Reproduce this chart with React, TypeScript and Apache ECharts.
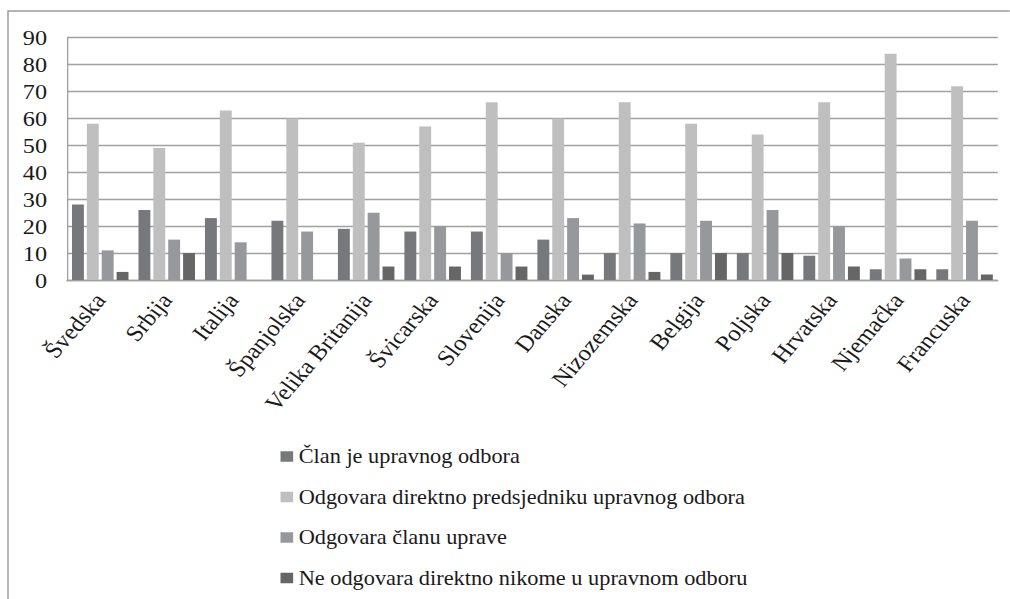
import React, { useEffect, useRef } from "react";
import * as echarts from "echarts";

const categories = [
  "Švedska", "Srbija", "Italija", "Španjolska", "Velika Britanija", "Švicarska", "Slovenija",
  "Danska", "Nizozemska", "Belgija", "Poljska", "Hrvatska", "Njemačka", "Francuska",
];
const seriesNames = [
  "Član je upravnog odbora",
  "Odgovara direktno predsjedniku upravnog odbora",
  "Odgovara članu uprave",
  "Ne odgovara direktno nikome u upravnom odboru",
];
const clanUpravnogOdbora = [28, 26, 23, 22, 19, 18, 18, 15, 10, 10, 10, 9, 4, 4];
const predsjedniku = [58, 49, 63, 60, 51, 57, 66, 60, 66, 58, 54, 66, 84, 72];
const clanuUprave = [11, 15, 14, 18, 25, 20, 10, 23, 21, 22, 26, 20, 8, 22];
const nikome = [3, 10, 0, 0, 5, 5, 5, 2, 3, 10, 10, 5, 4, 2];
const colors = ["#77787b", "#c0bfc0", "#97989b", "#666666"];
const yTicks = { min: 0, max: 90, interval: 10 };

const FONT = "Liberation Serif";
// The reference picture is slightly stretched horizontally; draw narrower and scale in x.
const STRETCH = 1.1;
const W = 1010 / STRETCH;
const px = (v: number) => v / STRETCH;

export default function App() {
  const ref = useRef<HTMLDivElement>(null);
  useEffect(() => {
    if (!ref.current) return;
    const chart = echarts.init(ref.current, null, { renderer: "svg" });
    const values = [clanUpravnogOdbora, predsjedniku, clanuUprave, nikome];
    chart.setOption({
      animation: false,
      backgroundColor: "#ffffff",
      textStyle: { fontFamily: FONT },
      graphic: [
        {
          type: "rect",
          shape: { x: px(8), y: 11, width: 1000, height: 700 },
          style: { fill: "none", stroke: "#9a9a9a", lineWidth: 1.3 },
          silent: true,
        },
      ],
      grid: { left: px(67), top: 37.7, right: W - px(998), bottom: 319, containLabel: false },
      legend: {
        orient: "vertical",
        left: px(275),
        top: 441,
        itemWidth: 11.5,
        itemHeight: 10.5,
        itemGap: 19.5,
        icon: "rect",
        data: seriesNames,
        textStyle: { fontFamily: FONT, fontSize: 20.3, color: "#1a1a1a", lineHeight: 21 },
      },
      xAxis: {
        type: "category",
        data: categories,
        axisLine: { show: true, lineStyle: { color: "#a0a0a0", width: 1.3 } },
        axisTick: { show: false },
        axisLabel: {
          rotate: 52,
          interval: 0,
          margin: 16,
          fontFamily: FONT,
          fontSize: 22.5,
          color: "#1a1a1a",
        },
      },
      yAxis: {
        type: "value",
        min: yTicks.min,
        max: yTicks.max,
        interval: yTicks.interval,
        axisLine: { show: true, lineStyle: { color: "#a0a0a0", width: 1.2 } },
        axisTick: { show: false },
        splitLine: { show: true, lineStyle: { color: "#a0a0a0", width: 1.3 } },
        axisLabel: { margin: px(20), fontFamily: FONT, fontSize: 22, color: "#1a1a1a" },
      },
      series: seriesNames.map((name, i) => ({
        name,
        type: "bar",
        data: values[i],
        barGap: "25%",
        barCategoryGap: "15%",
        itemStyle: { color: colors[i] },
      })),
    });
    return () => chart.dispose();
  }, []);
  return (
    <div
      ref={ref}
      style={{
        position: "fixed",
        left: 0,
        top: 0,
        width: W,
        height: 599,
        transform: `scaleX(${STRETCH})`,
        transformOrigin: "0 0",
      }}
    />
  );
}
